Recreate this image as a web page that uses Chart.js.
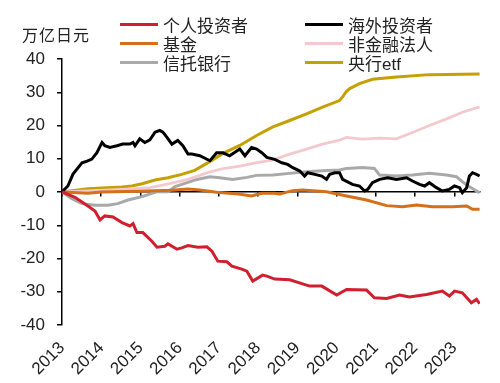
<!DOCTYPE html>
<html>
<head>
<meta charset="utf-8">
<script src="https://cdn.jsdelivr.net/npm/chart.js@4.4.0/dist/chart.umd.min.js"></script>
<style>
  body { margin: 0; background: #fff; }
  #wrap { position: relative; width: 500px; height: 383px; }
  #unit { position: absolute; left: 22px; top: 22px; font: 16px "Noto Sans CJK SC"; color: #222; letter-spacing: 1px; }
  #legend { position: absolute; left: 120px; top: 15px; display: grid; grid-template-columns: 185px 160px; }
  .item { display: flex; align-items: center; height: 19px; font: 17px "Liberation Sans", "Noto Sans CJK SC"; color: #222; white-space: nowrap; }
  .swatch { width: 38px; height: 3px; margin-right: 5px; }
</style>
</head>
<body>
<div id="wrap">
  <canvas id="chart" width="500" height="383"></canvas>
  <div id="unit">万亿日元</div>
  <div id="legend"></div>
</div>
<script>
// tick labels on the year axis
const yearTicks = [2013, 2014, 2015, 2016, 2017, 2018, 2019, 2020, 2021, 2022, 2023];

// 个人投资者
const retailYears = [2013.00, 2013.33, 2013.66, 2013.84, 2013.97, 2014.09, 2014.30, 2014.53, 2014.73, 2014.81, 2014.91, 2015.06, 2015.29, 2015.42, 2015.62, 2015.70, 2015.93, 2016.05, 2016.21, 2016.46, 2016.69, 2016.82, 2016.97, 2017.20, 2017.33, 2017.58, 2017.71, 2017.86, 2018.11, 2018.22, 2018.42, 2018.80, 2019.31, 2019.62, 2020.00, 2020.25, 2020.76, 2020.96, 2021.27, 2021.60, 2021.85, 2022.29, 2022.69, 2022.87, 2023.00, 2023.20, 2023.43, 2023.56, 2023.64];
const retailValues = [0, -1.6, -4.2, -5.7, -8.4, -7.2, -7.5, -9.2, -10.2, -9.5, -12.2, -12.2, -14.8, -16.6, -16.3, -15.6, -17.2, -16.8, -16.1, -16.6, -16.5, -17.8, -20.8, -21.0, -22.3, -23.2, -23.8, -26.8, -25.0, -25.3, -26.2, -26.4, -28.3, -28.3, -31.0, -29.3, -29.5, -31.8, -32.0, -31.0, -31.6, -30.8, -29.8, -31.3, -29.8, -30.3, -33.3, -32.3, -33.6];

// 海外投资者
const foreignYears = [2013.00, 2013.15, 2013.28, 2013.38, 2013.51, 2013.64, 2013.76, 2013.89, 2014.02, 2014.09, 2014.22, 2014.40, 2014.55, 2014.73, 2014.81, 2014.86, 2014.98, 2015.11, 2015.24, 2015.37, 2015.49, 2015.57, 2015.67, 2015.80, 2015.95, 2016.08, 2016.21, 2016.31, 2016.51, 2016.77, 2016.94, 2017.10, 2017.27, 2017.53, 2017.66, 2017.83, 2017.96, 2018.09, 2018.22, 2018.42, 2018.60, 2018.75, 2018.88, 2019.06, 2019.18, 2019.26, 2019.44, 2019.62, 2019.74, 2019.82, 2019.95, 2020.07, 2020.15, 2020.40, 2020.58, 2020.71, 2020.79, 2020.91, 2021.09, 2021.30, 2021.52, 2021.78, 2021.93, 2022.11, 2022.24, 2022.36, 2022.54, 2022.69, 2022.87, 2023.00, 2023.13, 2023.20, 2023.31, 2023.38, 2023.46, 2023.56, 2023.64];
const foreignValues = [0, 1.8, 5.4, 6.9, 8.8, 9.3, 9.9, 11.8, 14.9, 13.9, 13.4, 13.9, 14.4, 14.4, 14.9, 13.9, 16.0, 14.9, 15.7, 18.0, 18.5, 18.0, 16.5, 14.4, 15.5, 13.9, 11.4, 11.4, 10.9, 9.4, 11.8, 11.8, 10.9, 12.9, 10.9, 13.4, 12.9, 11.8, 10.4, 9.8, 8.8, 8.3, 7.3, 6.3, 4.8, 5.8, 5.3, 4.8, 3.8, 5.3, 5.8, 5.8, 3.8, 2.3, 1.8, 0.3, 0.8, 2.8, 3.8, 4.3, 3.8, 4.3, 3.3, 2.3, 1.8, 2.8, 1.3, 0.3, 0.8, 1.8, 1.3, -0.2, 1.3, 4.8, 5.8, 5.3, 4.8];

// 基金
const fundYears = [2013.00, 2013.66, 2014.00, 2014.93, 2015.80, 2016.21, 2016.51, 2016.94, 2017.50, 2017.83, 2018.09, 2018.42, 2018.55, 2018.88, 2019.13, 2019.74, 2020.25, 2020.76, 2021.27, 2021.68, 2022.03, 2022.44, 2022.95, 2023.31, 2023.46, 2023.64];
const fundValues = [0, -0.4, 0, 0.2, 0.5, 0.9, 0.6, -0.1, -0.6, -1.2, -0.4, -0.4, -0.6, 0.4, 0.6, 0.1, -1.2, -2.4, -4.1, -4.4, -3.9, -4.4, -4.4, -4.2, -5.2, -5.2];

// 非金融法人
const corpYears = [2013.00, 2013.66, 2014.53, 2015.24, 2015.62, 2016.21, 2016.51, 2016.69, 2017.10, 2017.53, 2017.96, 2018.36, 2018.80, 2019.23, 2019.64, 2020.07, 2020.25, 2020.66, 2021.09, 2021.52, 2021.93, 2022.36, 2022.80, 2023.20, 2023.64];
const corpValues = [0, 0.3, 0.8, 1.3, 2.2, 3.8, 5.0, 5.8, 7.0, 7.8, 8.8, 9.6, 11.4, 12.9, 14.4, 15.6, 16.4, 15.9, 16.2, 16.0, 17.9, 20.0, 22.0, 24.0, 25.6];

// 信托银行
const trustYears = [2013.00, 2013.25, 2013.51, 2013.84, 2014.17, 2014.42, 2014.68, 2015.04, 2015.29, 2015.44, 2015.70, 2015.88, 2016.13, 2016.38, 2016.77, 2017.02, 2017.35, 2017.71, 2017.96, 2018.37, 2018.80, 2019.23, 2019.64, 2020.07, 2020.25, 2020.66, 2020.96, 2021.09, 2021.52, 2021.93, 2022.36, 2022.80, 2023.05, 2023.20, 2023.38, 2023.64];
const trustValues = [0, -2.0, -3.5, -4.0, -4.0, -3.5, -2.4, -1.4, -0.4, 0.1, 0.1, 1.6, 2.6, 3.6, 4.6, 4.3, 3.8, 4.4, 5.0, 5.1, 5.6, 6.1, 6.4, 6.6, 7.1, 7.4, 7.1, 5.1, 4.8, 5.1, 5.6, 5.1, 4.6, 3.1, 1.6, -0.2];

// 央行etf
const bojYears = [2013.00, 2013.66, 2014.02, 2014.53, 2014.78, 2015.04, 2015.37, 2015.70, 2016.05, 2016.38, 2016.69, 2017.10, 2017.53, 2017.96, 2018.36, 2018.80, 2019.23, 2019.64, 2020.07, 2020.15, 2020.25, 2020.33, 2020.58, 2020.91, 2021.52, 2022.36, 2023.64];
const bojValues = [0, 1.0, 1.2, 1.5, 1.8, 2.5, 3.6, 4.3, 5.3, 6.5, 8.6, 11.6, 14.0, 17.0, 19.5, 21.5, 23.5, 25.5, 27.5, 28.6, 30.3, 31.1, 32.6, 33.9, 34.6, 35.3, 35.5];

function toPoints(xs, ys) {
    return xs.map((x, i) => ({ x: x, y: ys[i] }));
}

function line(label, xs, ys, color, width) {
    return {
        label: label,
        data: toPoints(xs, ys),
        borderColor: color,
        backgroundColor: color,
        borderWidth: width,
        pointRadius: 0,
        tension: 0
    };
}

function setYearTicks(scale) {
    scale.ticks = yearTicks.map(v => ({ value: v }));
}

Chart.defaults.font.family = '"Liberation Sans", Arial, sans-serif';
Chart.defaults.color = '#222';

const ctx = document.getElementById('chart').getContext('2d');
const chart = new Chart(ctx, {
    type: 'line',
    data: {
        datasets: [
            line('个人投资者', retailYears, retailValues, '#D01F2E', 3),
            line('海外投资者', foreignYears, foreignValues, '#000000', 3),
            line('基金', fundYears, fundValues, '#D4701C', 3),
            line('非金融法人', corpYears, corpValues, '#F4C9CE', 2.8),
            line('信托银行', trustYears, trustValues, '#A9A9A9', 3),
            line('央行etf', bojYears, bojValues, '#C4A000', 3)
        ]
    },
    options: {
        responsive: false,
        animation: false,
        layout: { padding: { top: 59, right: 20, left: 0, bottom: 0 } },
        plugins: {
            legend: { display: false },
            tooltip: { enabled: false }
        },
        scales: {
            x: {
                type: 'linear',
                position: 'bottom',
                min: 2013,
                max: 2023.65,
                afterBuildTicks: setYearTicks,
                afterFit: function (scale) { scale.height = 58; },
                border: { display: false },
                grid: { display: false, drawTicks: false },
                ticks: {
                    minRotation: 45,
                    maxRotation: 45,
                    padding: 13,
                    font: { size: 17 },
                    callback: v => String(v)
                }
            },
            x2: {
                type: 'linear',
                position: { y: 0 },
                min: 2013,
                max: 2023.65,
                afterBuildTicks: setYearTicks,
                border: { display: true, color: '#000', width: 1.5 },
                grid: { drawOnChartArea: false, drawTicks: true, tickLength: 4, color: '#000', lineWidth: 1.5 },
                ticks: { display: false }
            },
            y: {
                min: -40,
                max: 40,
                afterFit: function (scale) { scale.width = 62; },
                border: { display: true, color: '#000', width: 1.5 },
                grid: { drawOnChartArea: false, drawTicks: true, tickLength: 5, color: '#000', lineWidth: 1.5 },
                ticks: {
                    stepSize: 10,
                    padding: 12,
                    font: { size: 17 }
                }
            }
        }
    }
});

// legend in two columns, same order as the datasets
const legendEl = document.getElementById('legend');
chart.data.datasets.forEach(ds => {
    const item = document.createElement('div');
    item.className = 'item';
    const sw = document.createElement('span');
    sw.className = 'swatch';
    sw.style.background = ds.borderColor;
    item.appendChild(sw);
    item.appendChild(document.createTextNode(ds.label));
    legendEl.appendChild(item);
});
</script>
</body>
</html>
